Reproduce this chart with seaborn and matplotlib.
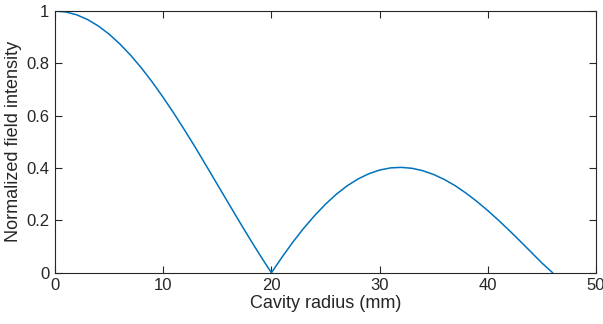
import numpy as np
import pandas as pd
import matplotlib
matplotlib.use("Agg")
import matplotlib.pyplot as plt
import seaborn as sns

# values, 1 mm step
radius = list(range(0, 47))
intensity = [1.0, 0.9964, 0.9856, 0.9677, 0.9430, 0.9117, 0.8740, 0.8306, 0.7817, 0.7280,
             0.6699, 0.6083, 0.5437, 0.4770, 0.4076, 0.3379, 0.2680, 0.1985, 0.1302, 0.0638,
             0.0, 0.0608, 0.1181, 0.1709, 0.2189, 0.2621, 0.3000, 0.3323, 0.3583, 0.3783,
             0.3925, 0.4007, 0.4027, 0.3992, 0.3899, 0.3754, 0.3561, 0.3324, 0.3040, 0.2723,
             0.2375, 0.2003, 0.1612, 0.1205, 0.0791, 0.0375, 0.0]
xticks = [0, 10, 20, 30, 40, 50]
yticks = [0, 0.2, 0.4, 0.6, 0.8, 1]
ytick_labels = ["0", "0.2", "0.4", "0.6", "0.8", "1"]

df = pd.DataFrame({"radius": radius, "intensity": intensity})

sns.set_style("white")
plt.rcParams["font.family"] = ["Liberation Sans", "DejaVu Sans"]

fig = plt.figure(figsize=(6.03, 3.24), dpi=100)
ax = fig.add_axes([0.0912, 0.158, 0.8972, 0.808])
sns.lineplot(data=df, x="radius", y="intensity", color="#0072BD", linewidth=1.1, ax=ax)

ax.set_xlim(0, 50)
ax.set_ylim(0, 1)
ax.set_xticks(xticks)
ax.set_xticklabels([str(t) for t in xticks])
ax.set_yticks(yticks)
ax.set_yticklabels(ytick_labels)
ax.tick_params(direction="in", length=5, width=0.8, color="#262626",
               labelsize=12, labelcolor="#262626", top=True, right=True,
               bottom=True, left=True, pad=4)
for s in ax.spines.values():
    s.set_visible(True)
    s.set_color("#262626")
    s.set_linewidth(0.8)
ax.set_xlabel("Cavity radius (mm)", fontsize=13, color="#262626", labelpad=1)
ax.set_ylabel("Normalized field intensity", fontsize=13, color="#262626", labelpad=3)

fig.savefig("out.png", dpi=100)
